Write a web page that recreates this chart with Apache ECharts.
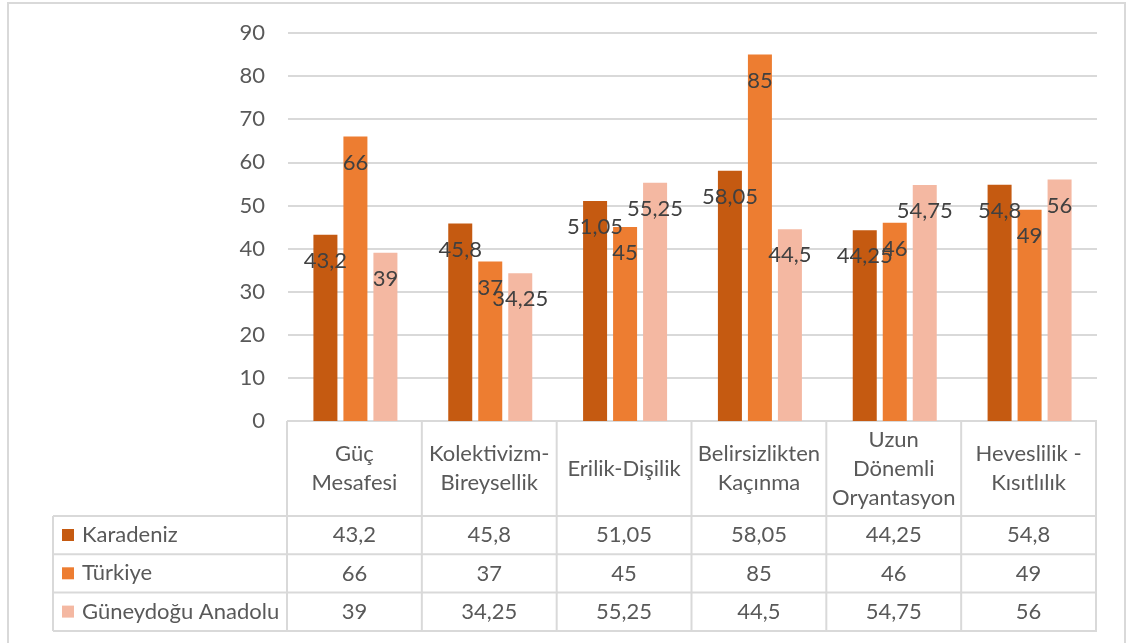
<!DOCTYPE html>
<html>
<head>
<meta charset="utf-8">
<script src="https://cdn.jsdelivr.net/npm/echarts@6/dist/echarts.min.js"></script>
<style>
  html, body { margin: 0; padding: 0; background: #fff; }
  #chart { width: 1128px; height: 643px; }
</style>
</head>
<body>
<div id="chart"></div>
<script>
// categories (header row of the data table)
const categories = [
  'Güç\nMesafesi',
  'Kolektivizm-\nBireysellik',
  'Erilik-Dişilik',
  'Belirsizlikten\nKaçınma',
  'Uzun\nDönemli\nOryantasyon',
  'Heveslilik -\nKısıtlılık'
];
const seriesNames = ['Karadeniz', 'Türkiye', 'Güneydoğu Anadolu'];
const karadeniz = [43.2, 45.8, 51.05, 58.05, 44.25, 54.8];
const turkiye = [66, 37, 45, 85, 46, 49];
const guneydogu = [39, 34.25, 55.25, 44.5, 54.75, 56];
const colors = ['#C55A11', '#ED7D31', '#F4B8A2'];

const W = 1128;
const grid = { left: 288, right: 31, top: 33, bottom: 222 };
const FONT = 'Lato, "Noto Sans", sans-serif';
const FS = 22;
const fmt = (v) => String(v).replace('.', ',');

const chart = echarts.init(document.getElementById('chart'));

// data table below the plot, laid out from the grid
function buildTable() {
  const colW = (W - grid.left - grid.right) / categories.length;
  const x0 = grid.left - 1;
  const x1 = W - grid.right;
  const yTop = 643 - grid.bottom;
  const headH = 95;
  const rowH = 38.3;
  const legendX = 53;
  const lineStyle = { stroke: '#d9d9d9', lineWidth: 2 };
  const els = [];
  const rows = [karadeniz, turkiye, guneydogu];

  // outer chart border
  els.push({ type: 'rect', shape: { x: 8, y: 3, width: 1117, height: 660 },
    style: { fill: 'none', stroke: '#d9d9d9', lineWidth: 2 }, z: -1 });

  // horizontal lines
  els.push({ type: 'line', shape: { x1: x0, y1: yTop, x2: x1, y2: yTop }, style: lineStyle });
  for (let r = 0; r <= rows.length; r++) {
    const y = yTop + headH + r * rowH;
    els.push({ type: 'line', shape: { x1: legendX, y1: y, x2: x1, y2: y }, style: lineStyle });
  }
  const yBottom = yTop + headH + rows.length * rowH;
  // vertical lines
  els.push({ type: 'line', shape: { x1: legendX, y1: yTop + headH, x2: legendX, y2: yBottom }, style: lineStyle });
  for (let c = 0; c <= categories.length; c++) {
    const x = x0 + c * colW;
    els.push({ type: 'line', shape: { x1: x, y1: yTop, x2: x, y2: yBottom }, style: lineStyle });
  }
  // header text
  categories.forEach((name, c) => {
    els.push({ type: 'text', x: x0 + (c + 0.5) * colW, y: yTop + headH / 2,
      style: { text: name, align: 'center', verticalAlign: 'middle', fontSize: FS,
        fontFamily: FONT, fill: '#595959', lineHeight: 29 } });
  });
  // value cells
  rows.forEach((vals, r) => {
    vals.forEach((v, c) => {
      els.push({ type: 'text', x: x0 + (c + 0.5) * colW, y: yTop + headH + (r + 0.5) * rowH,
        style: { text: fmt(v), align: 'center', verticalAlign: 'middle', fontSize: FS,
          fontFamily: FONT, fill: '#595959' } });
    });
  });
  return els;
}

const barLabel = {
  show: true,
  position: 'insideTop',
  distance: 15,
  color: '#404040',
  fontSize: FS,
  fontFamily: FONT,
  formatter: (p) => fmt(p.value)
};

chart.setOption({
  animation: false,
  color: colors,
  textStyle: { fontFamily: FONT },
  grid: grid,
  legend: {
    orient: 'vertical',
    left: 62,
    top: 523,
    padding: 0,
    itemWidth: 12,
    itemHeight: 12,
    itemGap: 14.3,
    icon: 'rect',
    selectedMode: false,
    textStyle: { fontSize: FS, color: '#595959', lineHeight: 24, padding: [0, 0, 0, 3] },
    data: seriesNames
  },
  xAxis: {
    type: 'category',
    data: categories,
    axisLine: { show: false },
    axisTick: { show: false },
    axisLabel: { show: false }
  },
  yAxis: {
    type: 'value',
    min: 0,
    max: 90,
    interval: 10,
    axisLabel: { fontSize: FS, color: '#595959', margin: 23 },
    splitLine: { lineStyle: { color: '#d9d9d9', width: 2 } }
  },
  series: [
    { name: seriesNames[0], type: 'bar', data: karadeniz, barWidth: 24, barGap: '25%', label: barLabel },
    { name: seriesNames[1], type: 'bar', data: turkiye, barWidth: 24, barGap: '25%', label: barLabel },
    { name: seriesNames[2], type: 'bar', data: guneydogu, barWidth: 24, barGap: '25%', label: barLabel }
  ],
  graphic: buildTable()
});
</script>
</body>
</html>
